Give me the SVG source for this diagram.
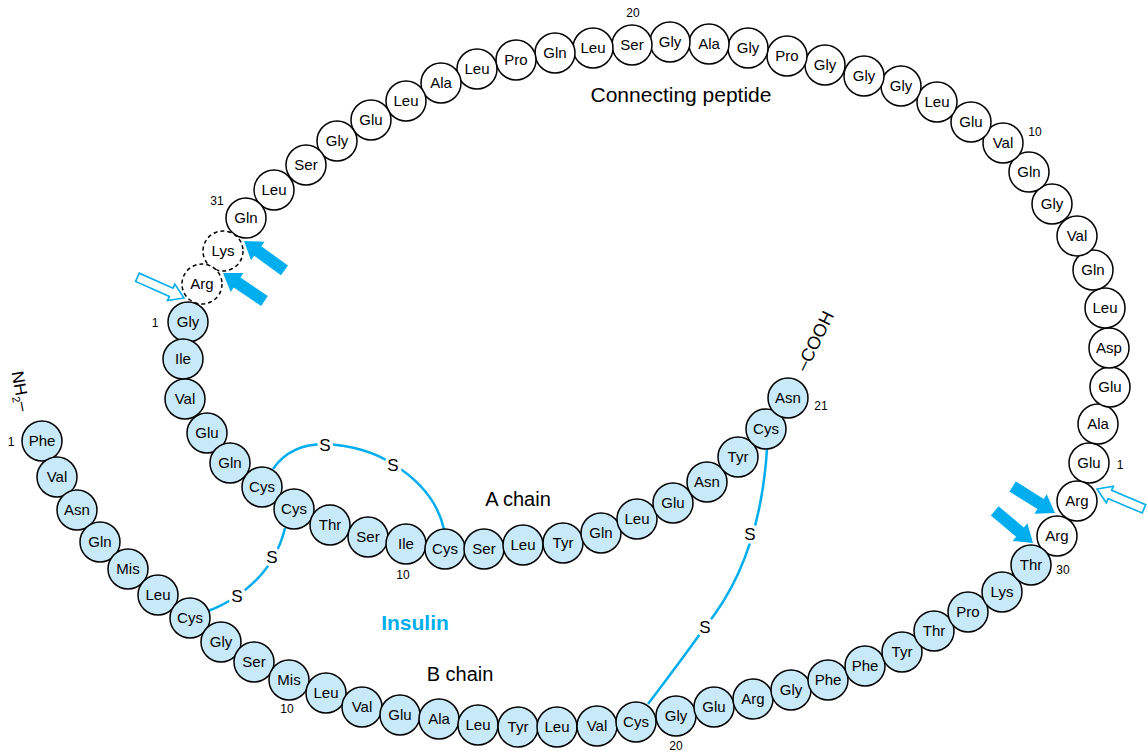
<svg xmlns="http://www.w3.org/2000/svg" xmlns:xlink="http://www.w3.org/1999/xlink" width="1148" height="751" viewBox="0 0 1148 751">
<style>
circle{stroke:#000;stroke-width:1.5}
.w{fill:#fff}
.b{fill:#c8e9f8}
.d{fill:#fff;stroke-dasharray:4 3}
text{font-family:"Liberation Sans",Arial,sans-serif;fill:#000}
.r{font-size:15px;text-anchor:middle}
.n{font-size:12px;text-anchor:middle}
.lab{font-size:20px;text-anchor:middle}
.ss{fill:none;stroke:#00aeef;stroke-width:2.5}
.s{font-size:17px;text-anchor:middle;stroke:#fff;stroke-width:7;paint-order:stroke;stroke-linejoin:round}
.fa{fill:#00aeef}
.oa{fill:#fff;stroke:#00aeef;stroke-width:1.6}
</style>
<defs>
<path id="farrow" d="M0,0 L-17,-11.5 L-17,-6 L-50,-6 L-50,6 L-17,6 L-17,11.5 Z"/>
<path id="oarrow" d="M0,0 L-14,-9 L-14,-4.5 L-51,-4.5 L-51,4.5 L-14,4.5 L-14,9 Z"/>
</defs>
<rect width="1148" height="751" fill="#fff"/>

<g id="connectors">
<path class="ss" d="M273,469 Q290,444 325,444 Q365,446 393,464 Q435,490 444,529"/>
<path class="ss" d="M285,528 Q275,570 237,596 Q222,606 208,611"/>
<path class="ss" d="M767,449 Q760,560 705,627 Q680,662 648,704"/>
<text class="s" x="325" y="451">S</text>
<text class="s" x="393" y="471">S</text>
<text class="s" x="272" y="563">S</text>
<text class="s" x="237" y="602">S</text>
<text class="s" x="750" y="540">S</text>
<text class="s" x="705" y="633">S</text>
<use xlink:href="#farrow" class="fa" transform="translate(244,241) rotate(216)"/>
<use xlink:href="#farrow" class="fa" transform="translate(223,273) rotate(214)"/>
<use xlink:href="#farrow" class="fa" transform="translate(1055,513) rotate(32)"/>
<use xlink:href="#farrow" class="fa" transform="translate(1033,543) rotate(40)"/>
<use xlink:href="#oarrow" class="oa" transform="translate(184,298) rotate(24)"/>
<use xlink:href="#oarrow" class="oa" transform="translate(1097,489) rotate(203)"/>
</g>

<!-- Connecting peptide -->
<g id="c1"><circle class="w" cx="1089" cy="463" r="20"/><text class="r" x="1089" y="468">Glu</text></g>
<g id="c2"><circle class="w" cx="1098" cy="424" r="20"/><text class="r" x="1098" y="429">Ala</text></g>
<g id="c3"><circle class="w" cx="1110" cy="387" r="20"/><text class="r" x="1110" y="392">Glu</text></g>
<g id="c4"><circle class="w" cx="1109" cy="348" r="20"/><text class="r" x="1109" y="353">Asp</text></g>
<g id="c5"><circle class="w" cx="1105" cy="308" r="20"/><text class="r" x="1105" y="313">Leu</text></g>
<g id="c6"><circle class="w" cx="1093" cy="270" r="20"/><text class="r" x="1093" y="275">Gln</text></g>
<g id="c7"><circle class="w" cx="1077" cy="236" r="20"/><text class="r" x="1077" y="241">Val</text></g>
<g id="c8"><circle class="w" cx="1052" cy="204" r="20"/><text class="r" x="1052" y="209">Gly</text></g>
<g id="c9"><circle class="w" cx="1029" cy="172" r="20"/><text class="r" x="1029" y="177">Gln</text></g>
<g id="c10"><circle class="w" cx="1003" cy="143" r="20"/><text class="r" x="1003" y="148">Val</text></g>
<g id="c11"><circle class="w" cx="971" cy="122" r="20"/><text class="r" x="971" y="127">Glu</text></g>
<g id="c12"><circle class="w" cx="937" cy="102" r="20"/><text class="r" x="937" y="107">Leu</text></g>
<g id="c13"><circle class="w" cx="901" cy="86" r="20"/><text class="r" x="901" y="91">Gly</text></g>
<g id="c14"><circle class="w" cx="864" cy="76" r="20"/><text class="r" x="864" y="81">Gly</text></g>
<g id="c15"><circle class="w" cx="825" cy="65" r="20"/><text class="r" x="825" y="70">Gly</text></g>
<g id="c16"><circle class="w" cx="787" cy="56" r="20"/><text class="r" x="787" y="61">Pro</text></g>
<g id="c17"><circle class="w" cx="748" cy="48" r="20"/><text class="r" x="748" y="53">Gly</text></g>
<g id="c18"><circle class="w" cx="709" cy="44" r="20"/><text class="r" x="709" y="49">Ala</text></g>
<g id="c19"><circle class="w" cx="670" cy="42" r="20"/><text class="r" x="670" y="47">Gly</text></g>
<g id="c20"><circle class="w" cx="632" cy="45" r="20"/><text class="r" x="632" y="50">Ser</text></g>
<g id="c21"><circle class="w" cx="593" cy="48" r="20"/><text class="r" x="593" y="53">Leu</text></g>
<g id="c22"><circle class="w" cx="555" cy="53" r="20"/><text class="r" x="555" y="58">Gln</text></g>
<g id="c23"><circle class="w" cx="516" cy="60" r="20"/><text class="r" x="516" y="65">Pro</text></g>
<g id="c24"><circle class="w" cx="477" cy="69" r="20"/><text class="r" x="477" y="74">Leu</text></g>
<g id="c25"><circle class="w" cx="441" cy="83" r="20"/><text class="r" x="441" y="88">Ala</text></g>
<g id="c26"><circle class="w" cx="406" cy="101" r="20"/><text class="r" x="406" y="106">Leu</text></g>
<g id="c27"><circle class="w" cx="371" cy="120" r="20"/><text class="r" x="371" y="125">Glu</text></g>
<g id="c28"><circle class="w" cx="337" cy="141" r="20"/><text class="r" x="337" y="146">Gly</text></g>
<g id="c29"><circle class="w" cx="306" cy="165" r="20"/><text class="r" x="306" y="170">Ser</text></g>
<g id="c30"><circle class="w" cx="274" cy="190" r="20"/><text class="r" x="274" y="195">Leu</text></g>
<g id="c31"><circle class="w" cx="246" cy="218" r="20"/><text class="r" x="246" y="223">Gln</text></g>
<g id="lys-d"><circle class="d" cx="223" cy="251" r="20"/><text class="r" x="223" y="256">Lys</text></g>
<g id="arg-d"><circle class="d" cx="202" cy="284" r="20"/><text class="r" x="202" y="289">Arg</text></g>
<g id="arg-r1"><circle class="w" cx="1077" cy="501" r="20"/><text class="r" x="1077" y="506">Arg</text></g>
<g id="arg-r2"><circle class="w" cx="1057" cy="536" r="20"/><text class="r" x="1057" y="541">Arg</text></g>

<!-- A chain -->
<g id="a1"><circle class="b" cx="188" cy="322" r="20"/><text class="r" x="188" y="327">Gly</text></g>
<g id="a2"><circle class="b" cx="183" cy="359" r="20"/><text class="r" x="183" y="364">Ile</text></g>
<g id="a3"><circle class="b" cx="185" cy="399" r="20"/><text class="r" x="185" y="404">Val</text></g>
<g id="a4"><circle class="b" cx="207" cy="433" r="20"/><text class="r" x="207" y="438">Glu</text></g>
<g id="a5"><circle class="b" cx="230" cy="463" r="20"/><text class="r" x="230" y="468">Gln</text></g>
<g id="a6"><circle class="b" cx="262" cy="487" r="20"/><text class="r" x="262" y="492">Cys</text></g>
<g id="a7"><circle class="b" cx="294" cy="509" r="20"/><text class="r" x="294" y="514">Cys</text></g>
<g id="a8"><circle class="b" cx="330" cy="525" r="20"/><text class="r" x="330" y="530">Thr</text></g>
<g id="a9"><circle class="b" cx="368" cy="537" r="20"/><text class="r" x="368" y="542">Ser</text></g>
<g id="a10"><circle class="b" cx="406" cy="544" r="20"/><text class="r" x="406" y="549">Ile</text></g>
<g id="a11"><circle class="b" cx="445" cy="549" r="20"/><text class="r" x="445" y="554">Cys</text></g>
<g id="a12"><circle class="b" cx="484" cy="549" r="20"/><text class="r" x="484" y="554">Ser</text></g>
<g id="a13"><circle class="b" cx="523" cy="545" r="20"/><text class="r" x="523" y="550">Leu</text></g>
<g id="a14"><circle class="b" cx="563" cy="543" r="20"/><text class="r" x="563" y="548">Tyr</text></g>
<g id="a15"><circle class="b" cx="601" cy="533" r="20"/><text class="r" x="601" y="538">Gln</text></g>
<g id="a16"><circle class="b" cx="637" cy="519" r="20"/><text class="r" x="637" y="524">Leu</text></g>
<g id="a17"><circle class="b" cx="673" cy="503" r="20"/><text class="r" x="673" y="508">Glu</text></g>
<g id="a18"><circle class="b" cx="707" cy="482" r="20"/><text class="r" x="707" y="487">Asn</text></g>
<g id="a19"><circle class="b" cx="738" cy="457" r="20"/><text class="r" x="738" y="462">Tyr</text></g>
<g id="a20"><circle class="b" cx="766" cy="429" r="20"/><text class="r" x="766" y="434">Cys</text></g>
<g id="a21"><circle class="b" cx="788" cy="398" r="20"/><text class="r" x="788" y="403">Asn</text></g>

<!-- B chain -->
<g id="b1"><circle class="b" cx="42" cy="441" r="20"/><text class="r" x="42" y="446">Phe</text></g>
<g id="b2"><circle class="b" cx="57" cy="477" r="20"/><text class="r" x="57" y="482">Val</text></g>
<g id="b3"><circle class="b" cx="77" cy="510" r="20"/><text class="r" x="77" y="515">Asn</text></g>
<g id="b4"><circle class="b" cx="100" cy="542" r="20"/><text class="r" x="100" y="547">Gln</text></g>
<g id="b5"><circle class="b" cx="128" cy="569" r="20"/><text class="r" x="128" y="574">Mis</text></g>
<g id="b6"><circle class="b" cx="158" cy="595" r="20"/><text class="r" x="158" y="600">Leu</text></g>
<g id="b7"><circle class="b" cx="190" cy="618" r="20"/><text class="r" x="190" y="623">Cys</text></g>
<g id="b8"><circle class="b" cx="221" cy="642" r="20"/><text class="r" x="221" y="647">Gly</text></g>
<g id="b9"><circle class="b" cx="254" cy="662" r="20"/><text class="r" x="254" y="667">Ser</text></g>
<g id="b10"><circle class="b" cx="289" cy="680" r="20"/><text class="r" x="289" y="685">Mis</text></g>
<g id="b11"><circle class="b" cx="326" cy="693" r="20"/><text class="r" x="326" y="698">Leu</text></g>
<g id="b12"><circle class="b" cx="362" cy="707" r="20"/><text class="r" x="362" y="712">Val</text></g>
<g id="b13"><circle class="b" cx="400" cy="715" r="20"/><text class="r" x="400" y="720">Glu</text></g>
<g id="b14"><circle class="b" cx="439" cy="719" r="20"/><text class="r" x="439" y="724">Ala</text></g>
<g id="b15"><circle class="b" cx="478" cy="725" r="20"/><text class="r" x="478" y="730">Leu</text></g>
<g id="b16"><circle class="b" cx="518" cy="727" r="20"/><text class="r" x="518" y="732">Tyr</text></g>
<g id="b17"><circle class="b" cx="557" cy="727" r="20"/><text class="r" x="557" y="732">Leu</text></g>
<g id="b18"><circle class="b" cx="597" cy="726" r="20"/><text class="r" x="597" y="731">Val</text></g>
<g id="b19"><circle class="b" cx="636" cy="722" r="20"/><text class="r" x="636" y="727">Cys</text></g>
<g id="b20"><circle class="b" cx="676" cy="716" r="20"/><text class="r" x="676" y="721">Gly</text></g>
<g id="b21"><circle class="b" cx="714" cy="707" r="20"/><text class="r" x="714" y="712">Glu</text></g>
<g id="b22"><circle class="b" cx="753" cy="699" r="20"/><text class="r" x="753" y="704">Arg</text></g>
<g id="b23"><circle class="b" cx="791" cy="690" r="20"/><text class="r" x="791" y="695">Gly</text></g>
<g id="b24"><circle class="b" cx="828" cy="680" r="20"/><text class="r" x="828" y="685">Phe</text></g>
<g id="b25"><circle class="b" cx="865" cy="666" r="20"/><text class="r" x="865" y="671">Phe</text></g>
<g id="b26"><circle class="b" cx="902" cy="652" r="20"/><text class="r" x="902" y="657">Tyr</text></g>
<g id="b27"><circle class="b" cx="934" cy="631" r="20"/><text class="r" x="934" y="636">Thr</text></g>
<g id="b28"><circle class="b" cx="968" cy="612" r="20"/><text class="r" x="968" y="617">Pro</text></g>
<g id="b29"><circle class="b" cx="1002" cy="592" r="20"/><text class="r" x="1002" y="597">Lys</text></g>
<g id="b30"><circle class="b" cx="1031" cy="565" r="20"/><text class="r" x="1031" y="570">Thr</text></g>

<g id="labels">
<text class="n" x="217" y="205">31</text>
<text class="n" x="633" y="17">20</text>
<text class="n" x="1035" y="136">10</text>
<text class="n" x="1120" y="469">1</text>
<text class="n" x="1063" y="574">30</text>
<text class="n" x="821" y="410">21</text>
<text class="n" x="403" y="579">10</text>
<text class="n" x="155" y="327">1</text>
<text class="n" x="11" y="446">1</text>
<text class="n" x="287" y="713">10</text>
<text class="n" x="676" y="750">20</text>
<text style="font-size:21px;text-anchor:middle" x="681" y="102">Connecting peptide</text>
<text class="lab" x="518" y="506">A chain</text>
<text class="lab" x="460" y="681">B chain</text>
<text style="font-size:21px;font-weight:bold;text-anchor:middle;fill:#00aeef" x="415" y="630">Insulin</text>
<text style="font-size:17px;text-anchor:middle" transform="translate(21,391) rotate(80)" y="6">NH<tspan font-size="11" dy="4">2</tspan><tspan dy="-4">–</tspan></text>
<text style="font-size:18px;text-anchor:middle" transform="translate(815,341) rotate(-64)" y="6">–COOH</text>
</g>
</svg>
